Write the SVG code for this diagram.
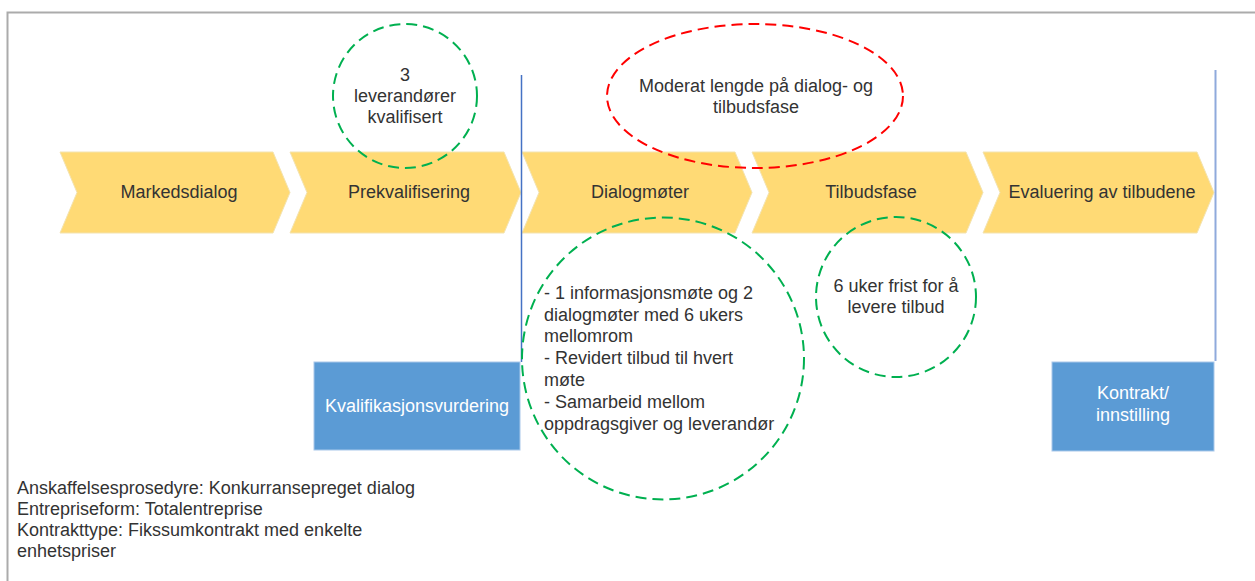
<svg xmlns="http://www.w3.org/2000/svg" width="1255" height="581" viewBox="0 0 1255 581">
<style>
text{font-family:"Liberation Sans",Arial,sans-serif;font-size:18px;fill:#333333}
.chev{fill:#FFDA75;stroke:#F3E3B0;stroke-width:1}
.box{fill:#5B9BD5;stroke:#A9C8EA;stroke-width:1}
.wt{fill:#FFFFFF}
.g{fill:none;stroke:#00B050;stroke-width:2;stroke-dasharray:11 6}
.r{fill:none;stroke:#FF0000;stroke-width:2;stroke-dasharray:11 6}
.c{text-anchor:middle}
</style>
<rect width="1255" height="581" fill="#FFFFFF"/>
<path d="M7.5 581 V12.5 H1255" fill="none" stroke="#ABABAB" stroke-width="2"/>
<g id="chevron-markedsdialog"><polygon class="chev" points="60,152 273,152 290,192.5 273,233 60,233 77,192.5"/><text class="c" x="179" y="198">Markedsdialog</text></g>
<g id="chevron-prekvalifisering"><polygon class="chev" points="290,152 504,152 521,192.5 504,233 290,233 307,192.5"/><text class="c" x="409" y="198">Prekvalifisering</text></g>
<g id="chevron-dialogmoter"><polygon class="chev" points="522,152 735,152 752,192.5 735,233 522,233 539,192.5"/><text class="c" x="640" y="198">Dialogmøter</text></g>
<g id="chevron-tilbudsfase"><polygon class="chev" points="752,152 966,152 983,192.5 966,233 752,233 769,192.5"/><text class="c" x="871" y="198">Tilbudsfase</text></g>
<g id="chevron-evaluering"><polygon class="chev" points="983,152 1197,152 1214,192.5 1197,233 983,233 1000,192.5"/><text class="c" x="1102" y="198">Evaluering av tilbudene</text></g>
<g id="connectors">
<line x1="521.5" y1="75" x2="521.5" y2="362" stroke="#4472C4" stroke-width="1.5"/>
<line x1="1215.5" y1="70" x2="1215.5" y2="361" stroke="#8FAADC" stroke-width="2"/>
</g>
<g id="box-kvalifikasjonsvurdering"><rect class="box" x="314" y="362" width="206" height="88"/><text class="c wt" x="417" y="412">Kvalifikasjonsvurdering</text></g>
<g id="box-kontrakt"><rect class="box" x="1052" y="362" width="162" height="89"/><text class="c wt" x="1133" y="399">Kontrakt/</text><text class="c wt" x="1133" y="421">innstilling</text></g>
<g id="note-leverandorer"><circle class="g" cx="405" cy="96" r="72"/><text class="c" x="405" y="81">3</text><text class="c" x="405" y="102">leverandører</text><text class="c" x="405" y="123">kvalifisert</text></g>
<g id="note-moderat"><ellipse class="r" cx="755" cy="96" rx="148" ry="72"/><text class="c" x="756" y="92">Moderat lengde på dialog- og</text><text class="c" x="756" y="113">tilbudsfase</text></g>
<g id="note-dialogmoter"><circle class="g" cx="663" cy="358.5" r="141"/>
<text x="544" y="299">- 1 informasjonsmøte og 2</text>
<text x="544" y="321">dialogmøter med 6 ukers</text>
<text x="544" y="342">mellomrom</text>
<text x="544" y="364">- Revidert tilbud til hvert</text>
<text x="544" y="386">møte</text>
<text x="544" y="408">- Samarbeid mellom</text>
<text x="544" y="430">oppdragsgiver og leverandør</text>
</g>
<g id="note-frist"><circle class="g" cx="896" cy="297" r="80"/><text class="c" x="896" y="292">6 uker frist for å</text><text class="c" x="896" y="313">levere tilbud</text></g>
<g id="info-text">
<text x="17" y="494">Anskaffelsesprosedyre: Konkurransepreget dialog</text>
<text x="17" y="515">Entrepriseform: Totalentreprise</text>
<text x="17" y="536">Kontrakttype: Fikssumkontrakt med enkelte</text>
<text x="17" y="557">enhetspriser</text>
</g>
</svg>
